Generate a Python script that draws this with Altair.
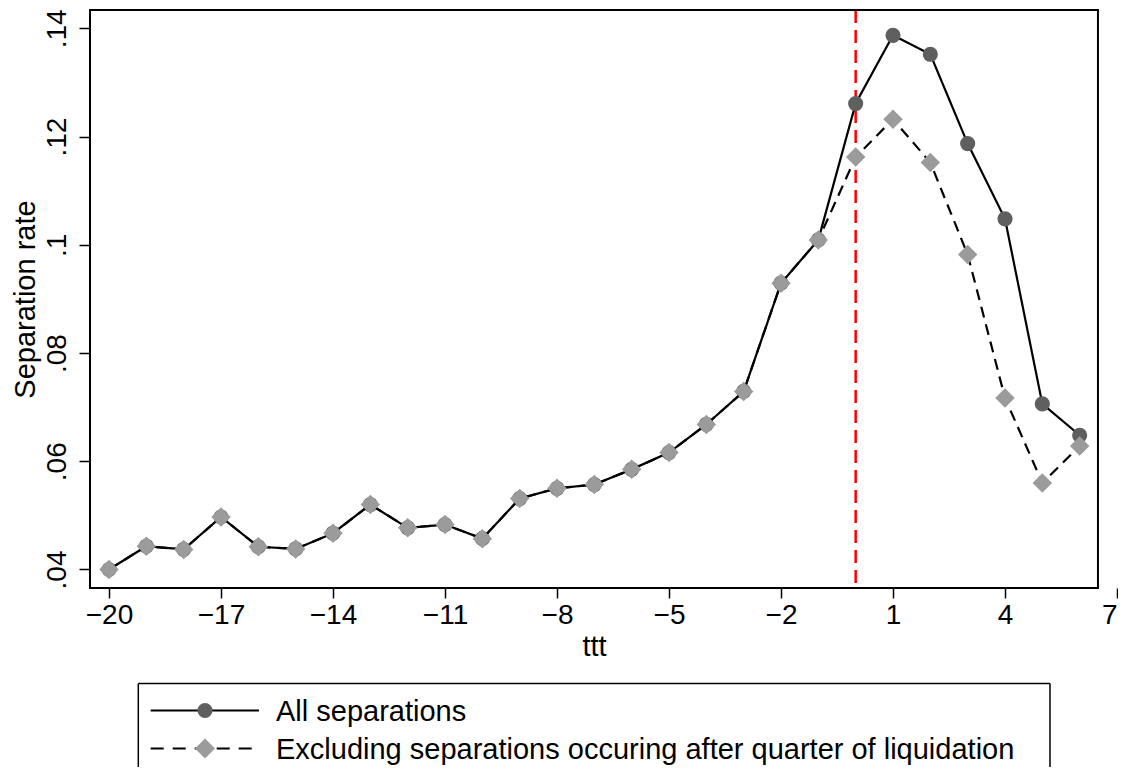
import altair as alt
import pandas as pd

# ---------------- data ----------------
ttt = [-20, -19, -18, -17, -16, -15, -14, -13, -12, -11, -10, -9, -8, -7,
       -6, -5, -4, -3, -2, -1, 0, 1, 2, 3, 4, 5, 6]
all_separations = [0.0400, 0.0443, 0.0437, 0.0497, 0.0442, 0.0438, 0.0467, 0.0520,
                   0.0477, 0.0483, 0.0457, 0.0531, 0.0550, 0.0557, 0.0585, 0.0616,
                   0.0668, 0.0729, 0.0929, 0.1009, 0.1261, 0.1387, 0.1352, 0.1187,
                   0.1048, 0.0706, 0.0648]
excluding_after = [0.0400, 0.0443, 0.0437, 0.0497, 0.0442, 0.0438, 0.0467, 0.0520,
                   0.0477, 0.0483, 0.0457, 0.0531, 0.0550, 0.0557, 0.0585, 0.0616,
                   0.0668, 0.0729, 0.0929, 0.1009, 0.1162, 0.1232, 0.1152, 0.0982,
                   0.0717, 0.0560, 0.0628]
series_labels = ["All separations",
                 "Excluding separations occuring after quarter of liquidation"]
x_ticks = [-20, -17, -14, -11, -8, -5, -2, 1, 4, 7]
y_ticks = [0.04, 0.06, 0.08, 0.10, 0.12, 0.14]
event_time = [0]

# ---------------- styling ----------------
FONT = "Liberation Sans"
FS = 28
FS_T = 29
W, H = 1027, 578
X_DOM = [-20.509, 7.0]
X_FRAME_END = 6.49
Y_DOM = [0.03658, 0.14338]
DARK = "#5f5f5f"
LIGHT = "#9b9b9b"
DASH = [11, 7]

df_all = pd.DataFrame({"ttt": ttt, "rate": all_separations})
df_exc = pd.DataFrame({"ttt": ttt, "rate": excluding_after})

xscale = alt.Scale(domain=X_DOM, nice=False, zero=False)
yscale = alt.Scale(domain=Y_DOM, nice=False, zero=False)

x_axis = alt.Axis(values=x_ticks, domain=False, grid=False, tickSize=10, tickWidth=1.5,
                  tickColor="black", labelFont=FONT, labelFontSize=FS, labelColor="black",
                  labelPadding=3, labelFlush=True, labelOverlap=False,
                  title="ttt", titleFont=FONT, titleFontSize=FS_T,
                  titleFontWeight="normal", titleColor="black", titlePadding=3, titleX=504)
y_axis = alt.Axis(values=y_ticks, domain=False, grid=False, tickSize=11, tickWidth=1.5,
                  tickColor="black", labelFont=FONT, labelFontSize=FS, labelColor="black",
                  labelAngle=270, labelAlign="center", labelBaseline="bottom", labelPadding=8,
                  labelExpr="substring(format(datum.value, '.2~f'), 1)",
                  title="Separation rate", titleFont=FONT, titleFontSize=FS_T,
                  titleFontWeight="normal", titleColor="black", titlePadding=3)

X = alt.X("ttt:Q", scale=xscale, axis=x_axis)
Y = alt.Y("rate:Q", scale=yscale, axis=y_axis)

frame = alt.Chart(pd.DataFrame({"x": [X_DOM[0]], "x2": [X_FRAME_END],
                                "y": [Y_DOM[0]], "y2": [Y_DOM[1]]})).mark_rect(
    fillOpacity=0, stroke="black", strokeWidth=2).encode(
    x=alt.X("x:Q", scale=xscale, axis=x_axis), x2="x2:Q",
    y=alt.Y("y:Q", scale=yscale, axis=y_axis), y2="y2:Q")

event = alt.Chart(pd.DataFrame({"ttt": event_time})).mark_rule(
    color="#ff0000", strokeWidth=2.5, strokeDash=[13, 7]).encode(x=X)

line_all = alt.Chart(df_all).mark_line(color="black", strokeWidth=2.2).encode(x=X, y=Y)
pts_all = alt.Chart(df_all).mark_point(shape="circle", filled=True, fill=DARK,
                                       opacity=1, size=230).encode(x=X, y=Y)
line_exc = alt.Chart(df_exc).mark_line(color="black", strokeWidth=2.2,
                                       strokeDash=DASH).encode(x=X, y=Y)
pts_exc = alt.Chart(df_exc).mark_point(shape="diamond", filled=True, fill=LIGHT,
                                       opacity=1, size=380).encode(x=X, y=Y)

# ---------------- legend (drawn below the plot) ----------------
one = pd.DataFrame({"k": [0]})
LX0, LX1, LY0, LY1 = 48.3, 960, 673.6, 757
leg_frame = [
    alt.Chart(one).mark_rule(color="black", strokeWidth=1.5).encode(
        x=alt.value(LX0), x2=alt.value(LX1), y=alt.value(LY0)),
    alt.Chart(one).mark_rule(color="black", strokeWidth=1.5).encode(
        x=alt.value(LX0), y=alt.value(LY0), y2=alt.value(LY1)),
    alt.Chart(one).mark_rule(color="black", strokeWidth=1.5).encode(
        x=alt.value(LX1), y=alt.value(LY0), y2=alt.value(LY1)),
]
rows_y = [700.5, 738.5]
leg_layers = []
styles = [({}, "circle", DARK, 230), ({"strokeDash": [13, 9]}, "diamond", LIGHT, 400)]
for lab, ry, (dash, shp, col, sz) in zip(series_labels, rows_y, styles):
    d = pd.DataFrame({"label": [lab]})
    leg_layers.append(alt.Chart(d).mark_rule(color="black", strokeWidth=2.2, **dash).encode(
        x=alt.value(60.7), x2=alt.value(169), y=alt.value(ry)))
    leg_layers.append(alt.Chart(d).mark_point(shape=shp, filled=True, fill=col, opacity=1,
                                              size=sz).encode(x=alt.value(115), y=alt.value(ry)))
    leg_layers.append(alt.Chart(d).mark_text(font=FONT, fontSize=FS_T, color="black",
                                             align="left", baseline="middle").encode(
        x=alt.value(186), y=alt.value(ry + 1), text="label:N"))

chart = alt.layer(event, line_all, pts_all, line_exc, pts_exc, frame,
                  *leg_frame, *leg_layers).properties(
    width=W, height=H, background="white",
    padding={"left": 3, "top": 0, "right": 0, "bottom": 0},
).configure_view(stroke="transparent", strokeWidth=0)

chart.save("out.html", embed_options={"renderer": "svg", "actions": False})
